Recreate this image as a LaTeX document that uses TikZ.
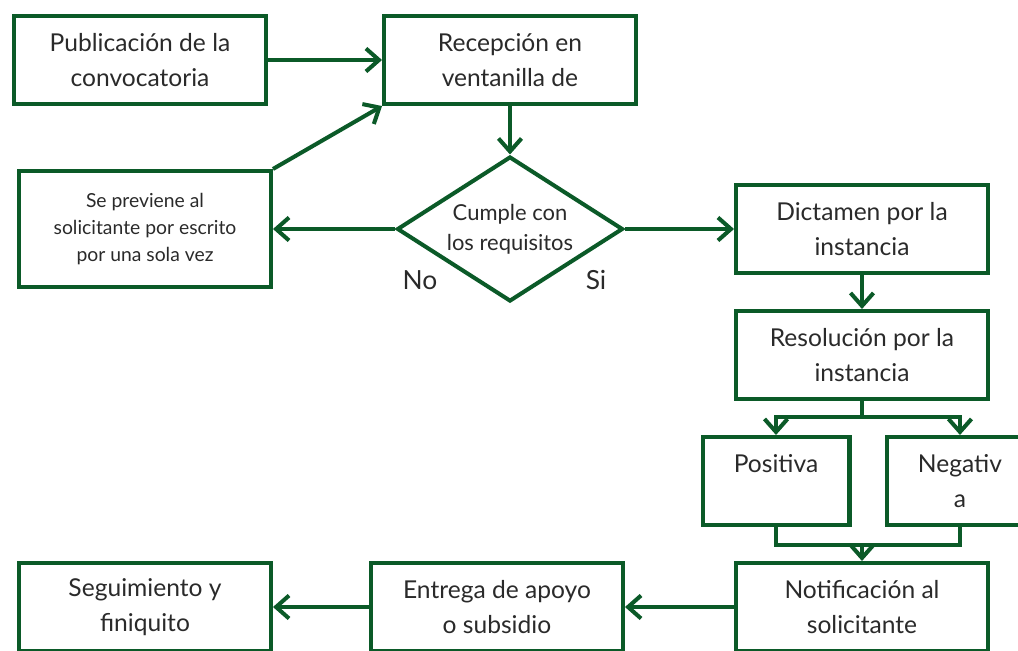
\documentclass[tikz,border=0pt]{standalone}
\usepackage{fontspec}
\setmainfont{Lato}
\usepackage{tikz}
\usetikzlibrary{
    positioning,
    arrows.meta,
    shapes.geometric,
}
\definecolor{flowgreen}{HTML}{0B5A28}
\definecolor{flowtext}{HTML}{2A2A2A}
\tikzset{
    % Basic node styles
    stepbox/.style={rectangle, draw=flowgreen, line width=2.3pt, minimum width=5.04cm,
                    minimum height=1.76cm, align=center, text=flowtext,
                    font=\fontsize{14}{20}\selectfont},
    note box/.style={stepbox, minimum height=2.32cm, font=\fontsize{11}{15.4}\selectfont},
    answer box/.style={stepbox, minimum width=2.94cm},
    decision/.style={diamond, draw=flowgreen, line width=2.3pt, minimum width=4.52cm,
                     minimum height=2.9cm, inner sep=-12pt, align=center, text=flowtext,
                     font=\fontsize{12.5}{17}\selectfont},
    % Arrow styles
    link/.style={draw=flowgreen, line width=2.3pt},
    arrow/.style={link, -{Straight Barb[length=2.6mm, width=4.6mm]}},
    % Annotation styles
    annot/.style={text=flowtext, font=\fontsize{15}{18}\selectfont},
}

\begin{document}
\begin{tikzpicture}[x=0.02cm, y=-0.02cm]
    \useasboundingbox (0,0) rectangle (1018,650);
    \clip (0,0) rectangle (1018,650);

    % Top row
    \node[stepbox] (pub) at (140,60) {Publicación de la\\convocatoria};
    \node[stepbox] (rec) at (510,60) {Recepción en\\ventanilla de};
    \draw[arrow] (pub) -- (rec);

    % Check
    \node[decision] (req) at (510,229) {Cumple con\\los requisitos};
    \node[note box] (prev) at (145,229) {Se previene al\\solicitante por escrito\\por una sola vez};
    \node[annot] (no) at (420,280) {No};
    \node[annot] (si) at (596,280) {Si};
    \draw[arrow] (rec) -- (req);
    \draw[arrow] (req) -- (prev);
    \draw[arrow] (prev.north east) -- (rec.south west);

    % Right column
    \node[stepbox] (dict) at (862,229) {Dictamen por la\\instancia};
    \node[stepbox] (res) at (862,355) {Resolución por la\\instancia};
    \draw[arrow] (req) -- (dict);
    \draw[arrow] (dict) -- (res);

    % Outcome
    \node[answer box] (pos) at (776,481) {Positiva\\~};
    \node[answer box] (neg) at (960,481) {Negativ\\a};
    \coordinate (split) at (862,417);
    \coordinate (merge) at (862,545);
    \draw[link] (res) -- (split);
    \draw[arrow] (split) -| (pos.north);
    \draw[arrow] (split) -| (neg.north);
    \draw[link] (pos.south) |- (merge) -| (neg.south);

    % Bottom row
    \node[stepbox] (notif) at (862,607) {Notificación al\\solicitante};
    \node[stepbox] (ent) at (497,607) {Entrega de apoyo\\o subsidio};
    \node[stepbox] (seg) at (145,607) {Seguimiento y\\finiquito};
    \draw[arrow] (merge) -- (notif);
    \draw[arrow] (notif) -- (ent);
    \draw[arrow] (ent) -- (seg);
\end{tikzpicture}
\end{document}
